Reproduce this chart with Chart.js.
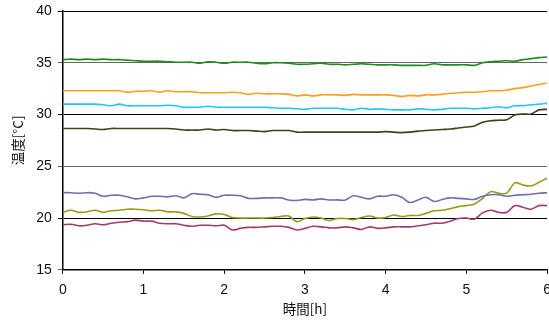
<!DOCTYPE html>
<html>
<head>
<meta charset="utf-8">
<script src="https://cdn.jsdelivr.net/npm/chart.js@4/dist/chart.umd.min.js"></script>
<style>
html,body{margin:0;padding:0;background:#fff;overflow:hidden;width:549px;height:321px;}
#c{position:absolute;left:0;top:-2px;}
</style>
</head>
<body>
<canvas id="c" width="560" height="323"></canvas>
<script>
// time axis [h], sampled every 0.1 h
const times = [0,0.1,0.2,0.3,0.4,0.5,0.6,0.7,0.8,0.9,1,1.1,1.2,1.3,1.4,1.5,1.6,1.7,1.8,1.9,2,2.1,2.2,2.3,2.4,2.5,2.6,2.7,2.8,2.9,3,3.1,3.2,3.3,3.4,3.5,3.6,3.7,3.8,3.9,4,4.1,4.2,4.3,4.4,4.5,4.6,4.7,4.8,4.9,5,5.1,5.2,5.3,5.4,5.5,5.6,5.7,5.8,5.9,6];

const green = [35.3,35.35,35.3,35.35,35.3,35.35,35.3,35.3,35.25,35.2,
  35.15,35.15,35.15,35.1,35.05,35.05,35.05,34.95,35.1,35.05,
  34.95,35.05,35.05,35.05,34.95,34.9,35.0,35.0,34.95,34.85,
  34.85,34.9,34.95,34.85,34.85,34.8,34.85,34.9,34.85,34.8,
  34.8,34.8,34.75,34.75,34.75,34.75,34.9,34.8,34.8,34.8,
  34.8,34.75,35.0,35.1,35.15,35.2,35.15,35.3,35.4,35.5,
  35.55];

const orange = [32.3,32.3,32.3,32.3,32.3,32.3,32.3,32.3,32.15,32.25,
  32.25,32.3,32.15,32.3,32.2,32.2,32.2,32.1,32.1,32.1,
  32.1,32.15,32.1,31.95,32.05,32.0,32.0,32.0,31.95,31.8,
  31.9,31.8,31.9,31.9,31.9,31.85,31.95,31.9,31.9,31.9,
  31.9,31.85,31.75,31.85,31.8,31.9,31.9,31.95,32.05,32.1,
  32.15,32.15,32.2,32.3,32.3,32.35,32.5,32.6,32.75,32.9,
  33.05];

const cyan = [31.0,31.0,31.0,31.0,31.0,30.95,30.85,31.0,30.85,30.85,
  30.85,30.85,30.85,30.9,30.85,30.7,30.7,30.7,30.8,30.7,
  30.7,30.7,30.7,30.7,30.7,30.7,30.65,30.6,30.6,30.55,
  30.5,30.6,30.6,30.6,30.6,30.5,30.45,30.6,30.5,30.55,
  30.5,30.45,30.45,30.45,30.55,30.5,30.45,30.5,30.6,30.6,
  30.6,30.55,30.6,30.65,30.75,30.65,30.85,30.85,30.95,31.0,
  31.1];

const darkOlive = [28.65,28.65,28.65,28.65,28.6,28.55,28.65,28.65,28.65,28.65,
  28.65,28.65,28.65,28.65,28.6,28.5,28.5,28.5,28.6,28.5,
  28.55,28.45,28.45,28.45,28.4,28.35,28.45,28.45,28.45,28.3,
  28.3,28.3,28.3,28.3,28.3,28.3,28.3,28.3,28.3,28.3,
  28.35,28.3,28.25,28.3,28.4,28.45,28.5,28.55,28.6,28.7,
  28.8,28.9,29.25,29.4,29.45,29.5,29.95,30.05,30.05,30.45,
  30.5];

const purple = [22.45,22.45,22.4,22.45,22.4,22.1,22.2,22.2,22.05,21.85,
  21.95,22.1,22.1,22.05,22.15,21.95,22.35,22.3,22.25,22.0,
  22.2,22.2,22.15,21.9,21.9,21.95,21.95,21.95,21.75,21.7,
  21.8,21.75,21.85,21.75,21.75,21.75,22.15,22.0,21.85,22.1,
  22.1,22.25,22.0,21.5,21.75,22.0,21.6,21.8,21.95,21.9,
  21.85,21.8,22.1,22.25,22.25,22.1,22.2,22.25,22.3,22.4,
  22.45];

const olive = [20.55,20.75,20.55,20.6,20.75,20.55,20.7,20.75,20.85,20.85,
  20.8,20.7,20.75,20.6,20.6,20.45,20.15,20.1,20.2,20.4,
  20.35,20.05,20.0,20.0,20.0,20.0,20.05,20.15,20.2,19.65,
  19.95,20.1,20.0,19.75,19.95,19.95,19.85,20.05,20.2,20.0,
  20.05,20.3,20.15,20.25,20.25,20.45,20.7,20.75,20.9,21.1,
  21.2,21.35,21.9,22.55,22.4,22.4,23.4,23.2,23.1,23.45,
  23.85];

const maroon = [19.35,19.4,19.25,19.3,19.45,19.35,19.5,19.6,19.65,19.8,
  19.7,19.7,19.5,19.45,19.45,19.3,19.2,19.3,19.3,19.25,
  19.3,18.85,19.0,19.1,19.1,19.15,19.2,19.2,19.1,18.85,
  19.0,19.2,19.15,19.05,19.05,19.15,19.05,18.9,19.15,19.0,
  19.05,19.15,19.15,19.15,19.25,19.35,19.5,19.5,19.7,19.95,
  20.0,19.9,20.5,20.75,20.55,20.55,21.2,21.05,20.85,21.2,
  21.2];

const xTicks = [0,1,2,3,4,5,6];
const yTicks = [15,20,25,30,35,40];
const xTitle = '時間[h]';
const yTitle = '温度[°C]';

const seriesList = [
  {name:'green', values:green, color:'#1c8c1c'},
  {name:'orange', values:orange, color:'#ff9f1a'},
  {name:'cyan', values:cyan, color:'#1ccaf5'},
  {name:'darkOlive', values:darkOlive, color:'#40401c'},
  {name:'purple', values:purple, color:'#6e6eb0'},
  {name:'olive', values:olive, color:'#9a9a14'},
  {name:'maroon', values:maroon, color:'#a8386e'}
];

const datasets = seriesList.map(s => ({
  label: s.name,
  data: times.map((t,i) => ({x:t, y:s.values[i]})),
  borderColor: s.color,
  borderWidth: 1.6,
  pointRadius: 0,
  tension: 0.35,
  fill: false
}));

const tickFont = {family:'"Liberation Sans", Arial, sans-serif', size:14, lineHeight:1};
const titleFont = {family:'"Noto Sans CJK JP", sans-serif', size:13.5, lineHeight:1.2};

new Chart(document.getElementById('c'), {
  type: 'line',
  data: {datasets},
  options: {
    responsive: false,
    animation: false,
    events: [],
    layout: {padding: {top: 0, left: 10, right: 0, bottom: 4}},
    plugins: {legend:{display:false}, tooltip:{enabled:false}},
    scales: {
      x: {
        type: 'linear',
        min: 0, max: 6,
        afterBuildTicks: ax => { ax.ticks = xTicks.map(v => ({value:v})); },
        ticks: {color:'#111', font: tickFont, padding: 9, maxRotation:0},
        grid: {drawOnChartArea:false, drawTicks:true, tickLength:4, color:'#000', lineWidth:1},
        border: {display:true, color:'#000', width:1.5},
        title: {display:true, text:xTitle, color:'#111', font:titleFont, padding:{top:-5,bottom:0}}
      },
      y: {
        min: 15, max: 40,
        afterBuildTicks: ax => { ax.ticks = yTicks.map(v => ({value:v})); },
        ticks: {color:'#111', font: tickFont, padding: 6},
        grid: {
          drawOnChartArea:true, drawTicks:true, tickLength:5,
          color: ctx => (ctx.tick && ctx.tick.value % 10 === 5) ? '#666' : '#000',
          lineWidth: 1
        },
        border: {display:true, color:'#000', width:1.5},
        title: {display:true, text:yTitle, color:'#111', font:titleFont, padding:{top:0,bottom:4}}
      }
    }
  }
});
</script>
</body>
</html>
